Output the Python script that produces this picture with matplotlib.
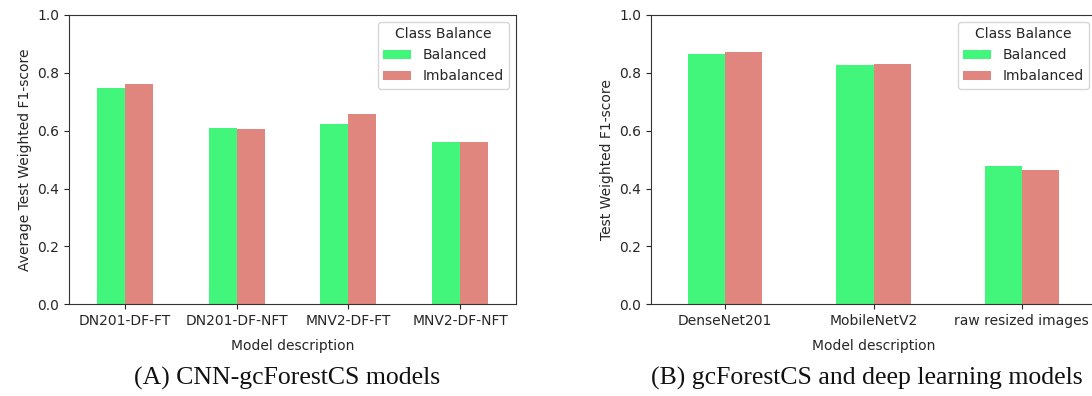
import numpy as np
import matplotlib
matplotlib.use("Agg")
import matplotlib.pyplot as plt

# data
models_a = ["DN201-DF-FT", "DN201-DF-NFT", "MNV2-DF-FT", "MNV2-DF-NFT"]
balanced_a = [0.747, 0.608, 0.623, 0.562]
imbalanced_a = [0.761, 0.605, 0.659, 0.562]

models_b = ["DenseNet201", "MobileNetV2", "raw resized images"]
balanced_b = [0.864, 0.827, 0.477]
imbalanced_b = [0.872, 0.831, 0.463]

GREEN = "#42f57b"
SALMON = "#e0867e"
TEXT = "#262626"

W, H = 1092, 396
fig = plt.figure(figsize=(W / 100, H / 100), dpi=100)

plt.rcParams["font.family"] = "DejaVu Sans"


def panel(rect, labels, bal, imb, ylabel):
    ax = fig.add_axes([rect[0] / W, 1 - (rect[1] + rect[3]) / H, rect[2] / W, rect[3] / H])
    x = np.arange(len(labels))
    ax.bar(x - 0.125, bal, width=0.25, color=GREEN, label="Balanced")
    ax.bar(x + 0.125, imb, width=0.25, color=SALMON, label="Imbalanced")
    ax.set_xlim(-0.5, len(labels) - 0.5)
    ax.set_ylim(0, 1.0)
    ax.set_yticks(np.arange(0, 1.01, 0.2))
    ax.set_xticks(x)
    ax.set_xticklabels(labels, rotation=0)
    ax.tick_params(labelsize=10, colors=TEXT, labelcolor=TEXT)
    ax.set_xlabel("Model description", fontsize=10, color=TEXT, labelpad=8)
    ax.set_ylabel(ylabel, fontsize=10, color=TEXT)
    for s in ax.spines.values():
        s.set_color("#333333")
    leg = ax.legend(title="Class Balance", loc="upper right", fontsize=10,
                    title_fontsize=10)
    for t in leg.get_texts():
        t.set_color(TEXT)
    leg.get_title().set_color(TEXT)
    return ax


panel((69, 15, 447, 289.3), models_a, balanced_a, imbalanced_a,
      "Average Test Weighted F1-score")
panel((651, 15, 445, 289.3), models_b, balanced_b, imbalanced_b,
      "Test Weighted F1-score")

cap_font = dict(family="Liberation Serif", fontsize=18.5, color="#111111",
                ha="center", va="center")
fig.text(287 / W, 1 - 378 / H, "(A) CNN-gcForestCS models", **cap_font)
fig.text(867 / W, 1 - 378 / H, "(B) gcForestCS and deep learning models", **cap_font)

fig.savefig("out.png", dpi=100)
